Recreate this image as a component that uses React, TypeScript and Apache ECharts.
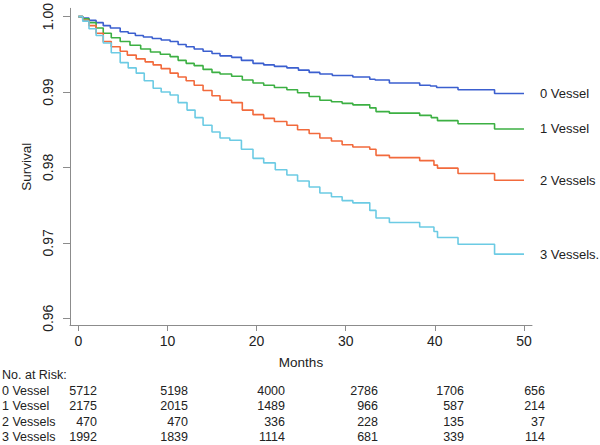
import React, { useEffect, useRef } from "react";
import * as echarts from "echarts";

const FONT = "'Liberation Sans', Arial, Helvetica, sans-serif";

const groupNames = ["0 Vessel", "1 Vessel", "2 Vessels", "3 Vessels."];
const riskRowNames = ["0 Vessel", "1 Vessel", "2 Vessels", "3 Vessels"];
const groupColors = ["#3b5fcf", "#3cb043", "#f26a3c", "#6ccbe4"];

const xTicks = [0, 10, 20, 30, 40, 50];
const yTicks = [0.96, 0.97, 0.98, 0.99, 1.0];

// [month, survival]
const surv0: number[][] = [
  [0, 1.0], [0.5, 0.9998], [1.2, 0.9995], [2, 0.9992], [2.8, 0.9988], [3.6, 0.9985],
  [4.7, 0.998], [5.6, 0.9978], [6.4, 0.9975], [7.3, 0.9973], [8.3, 0.9971], [9.3, 0.9969],
  [10.3, 0.9967], [11.2, 0.9963], [12.1, 0.996], [13.0, 0.9957], [14.0, 0.9954], [15.0, 0.9951],
  [15.9, 0.9948], [17.2, 0.9946], [18.3, 0.9942], [19.6, 0.9938], [20.8, 0.9936], [22.0, 0.9934],
  [23.4, 0.9932], [24.7, 0.9929], [25.9, 0.9926], [27.1, 0.9924], [28.5, 0.9922], [30.8, 0.992],
  [32.7, 0.9917], [33.3, 0.9916], [34.9, 0.9912], [38.3, 0.9909], [39.5, 0.9908], [40.2, 0.9906],
  [42.6, 0.9903], [46.7, 0.9898], [50, 0.9898],
];
const surv1: number[][] = [
  [0, 1.0], [0.5, 0.9997], [1.2, 0.9992], [2, 0.9985], [2.8, 0.9978], [3.7, 0.9972],
  [4.7, 0.9967], [5.8, 0.9962], [7.0, 0.9957], [8.1, 0.9953], [9.2, 0.995], [10.3, 0.9947],
  [11.2, 0.9942], [12.1, 0.9938], [13.0, 0.9935], [14.0, 0.993], [15.0, 0.9926], [15.9, 0.9924],
  [17.2, 0.9921], [18.4, 0.9916], [19.6, 0.9912], [20.8, 0.9909], [22.0, 0.9906], [23.4, 0.9903],
  [24.6, 0.9899], [25.9, 0.9894], [27.1, 0.9889], [28.4, 0.9887], [29.6, 0.9885], [30.8, 0.9883],
  [32.7, 0.9879], [33.4, 0.9874], [34.9, 0.9872], [38.3, 0.9869], [39.6, 0.9866], [40.3, 0.9862],
  [42.6, 0.9858], [46.7, 0.9851], [50, 0.9851],
];
const surv2: number[][] = [
  [0, 1.0], [0.5, 0.9995], [1.2, 0.9988], [2, 0.9978], [2.8, 0.9967], [3.7, 0.996],
  [4.7, 0.9954], [5.5, 0.9949], [6.5, 0.9944], [7.5, 0.994], [8.4, 0.9936], [9.3, 0.9931],
  [10.3, 0.9925], [11.2, 0.992], [12.1, 0.9915], [13.0, 0.9909], [14.0, 0.9902], [15.0, 0.9895],
  [15.9, 0.9889], [17.2, 0.9886], [18.4, 0.9876], [19.6, 0.987], [20.8, 0.9865], [22.0, 0.9861],
  [23.4, 0.9856], [24.6, 0.985], [25.9, 0.9845], [27.1, 0.9839], [28.4, 0.9835], [29.6, 0.983],
  [30.8, 0.9827], [32.7, 0.9824], [33.4, 0.9816], [34.9, 0.9813], [38.3, 0.9809], [39.9, 0.9803],
  [40.3, 0.9799], [42.6, 0.9792], [46.7, 0.9783], [50, 0.9783],
];
const surv3: number[][] = [
  [0, 1.0], [0.5, 0.9994], [1.2, 0.9984], [2, 0.9975], [2.8, 0.9965], [3.7, 0.9952],
  [4.7, 0.9939], [5.6, 0.9932], [6.5, 0.9925], [7.4, 0.9915], [8.4, 0.9905], [9.3, 0.99],
  [10.3, 0.9896], [11.2, 0.9886], [12.2, 0.9876], [13.1, 0.9866], [14.0, 0.9856], [15.0, 0.9847],
  [15.9, 0.9839], [17.0, 0.9836], [18.3, 0.9824], [19.6, 0.9812], [20.8, 0.9806], [22.1, 0.9797],
  [23.4, 0.979], [24.6, 0.9782], [25.9, 0.9774], [27.1, 0.9766], [28.4, 0.9761], [29.6, 0.9756],
  [30.8, 0.9753], [32.7, 0.9743], [33.4, 0.9733], [34.9, 0.9727], [38.3, 0.9721], [39.9, 0.9715],
  [40.3, 0.9707], [42.6, 0.9698], [46.7, 0.9685], [50, 0.9685],
];
const survData = [surv0, surv1, surv2, surv3];

const riskHeader = "No. at Risk:";
const risk0 = [5712, 5198, 4000, 2786, 1706, 656];
const risk1 = [2175, 2015, 1489, 966, 587, 214];
const risk2 = [470, 470, 336, 228, 135, 37];
const risk3 = [1992, 1839, 1114, 681, 339, 114];
const riskRows = [risk0, risk1, risk2, risk3];

// layout (pixels)
const riskColRight = [97, 188, 285, 378, 464, 545];
const riskRowY = [391, 406, 422, 437];
const riskHeaderY = 375;

export default function App() {
  const ref = useRef<HTMLDivElement>(null);
  useEffect(() => {
    document.body.style.margin = "0";
    if (!ref.current) return;
    const chart = echarts.init(ref.current, null, { renderer: "svg" });
    const textColor = "#222";
    const axisColor = "#8c8c8c";

    const graphic: any[] = [
      {
        type: "text",
        x: 2,
        y: riskHeaderY,
        style: { text: riskHeader, fill: textColor, font: `12.5px ${FONT}`, textVerticalAlign: "middle" },
      },
    ];
    riskRows.forEach((row, i) => {
      graphic.push({
        type: "text",
        x: 2,
        y: riskRowY[i],
        style: { text: riskRowNames[i], fill: textColor, font: `12.5px ${FONT}`, textVerticalAlign: "middle" },
      });
      row.forEach((v, j) => {
        graphic.push({
          type: "text",
          x: riskColRight[j],
          y: riskRowY[i],
          style: {
            text: String(v),
            fill: textColor,
            font: `12.5px ${FONT}`,
            textAlign: "right",
            textVerticalAlign: "middle",
          },
        });
      });
    });

    chart.setOption({
      animation: false,
      backgroundColor: "#ffffff",
      grid: { left: 70, right: 68, top: 8, bottom: 120 },
      xAxis: {
        type: "value",
        min: -0.93,
        max: 50.9,
        name: "Months",
        nameLocation: "middle",
        nameGap: 30,
        nameTextStyle: { color: textColor, fontSize: 13.5, fontFamily: FONT },
        axisLine: { onZero: false, lineStyle: { color: axisColor, width: 1 } },
        axisTick: { customValues: xTicks, length: 6, lineStyle: { color: axisColor } },
        axisLabel: {
          customValues: xTicks,
          margin: 9,
          fontSize: 14,
          color: textColor,
          fontFamily: FONT,
        },
        splitLine: { show: false },
      },
      yAxis: {
        type: "value",
        min: 0.9591,
        max: 1.0011,
        name: "Survival",
        nameLocation: "middle",
        nameRotate: 90,
        nameGap: 37,
        nameTextStyle: { color: textColor, fontSize: 13.5, fontFamily: FONT },
        axisLine: { show: true, onZero: false, lineStyle: { color: axisColor, width: 1 } },
        axisTick: { show: true, customValues: yTicks, length: 7, lineStyle: { color: axisColor } },
        axisLabel: {
          customValues: yTicks,
          rotate: 90,
          margin: 15,
          fontSize: 14,
          color: textColor,
          fontFamily: FONT,
          formatter: (v: number) => v.toFixed(2),
        },
        splitLine: { show: false },
      },
      series: survData.map((d, i) => ({
        name: groupNames[i],
        type: "line",
        step: "end",
        data: d,
        showSymbol: false,
        symbol: "none",
        lineStyle: { color: groupColors[i], width: 1.6 },
        itemStyle: { color: groupColors[i] },
        endLabel: {
          show: true,
          formatter: "{a}",
          distance: 16,
          color: textColor,
          fontSize: 13,
          fontFamily: FONT,
        },
      })),
      graphic,
    });
    return () => chart.dispose();
  }, []);
  return <div ref={ref} style={{ width: 600, height: 445 }} />;
}
